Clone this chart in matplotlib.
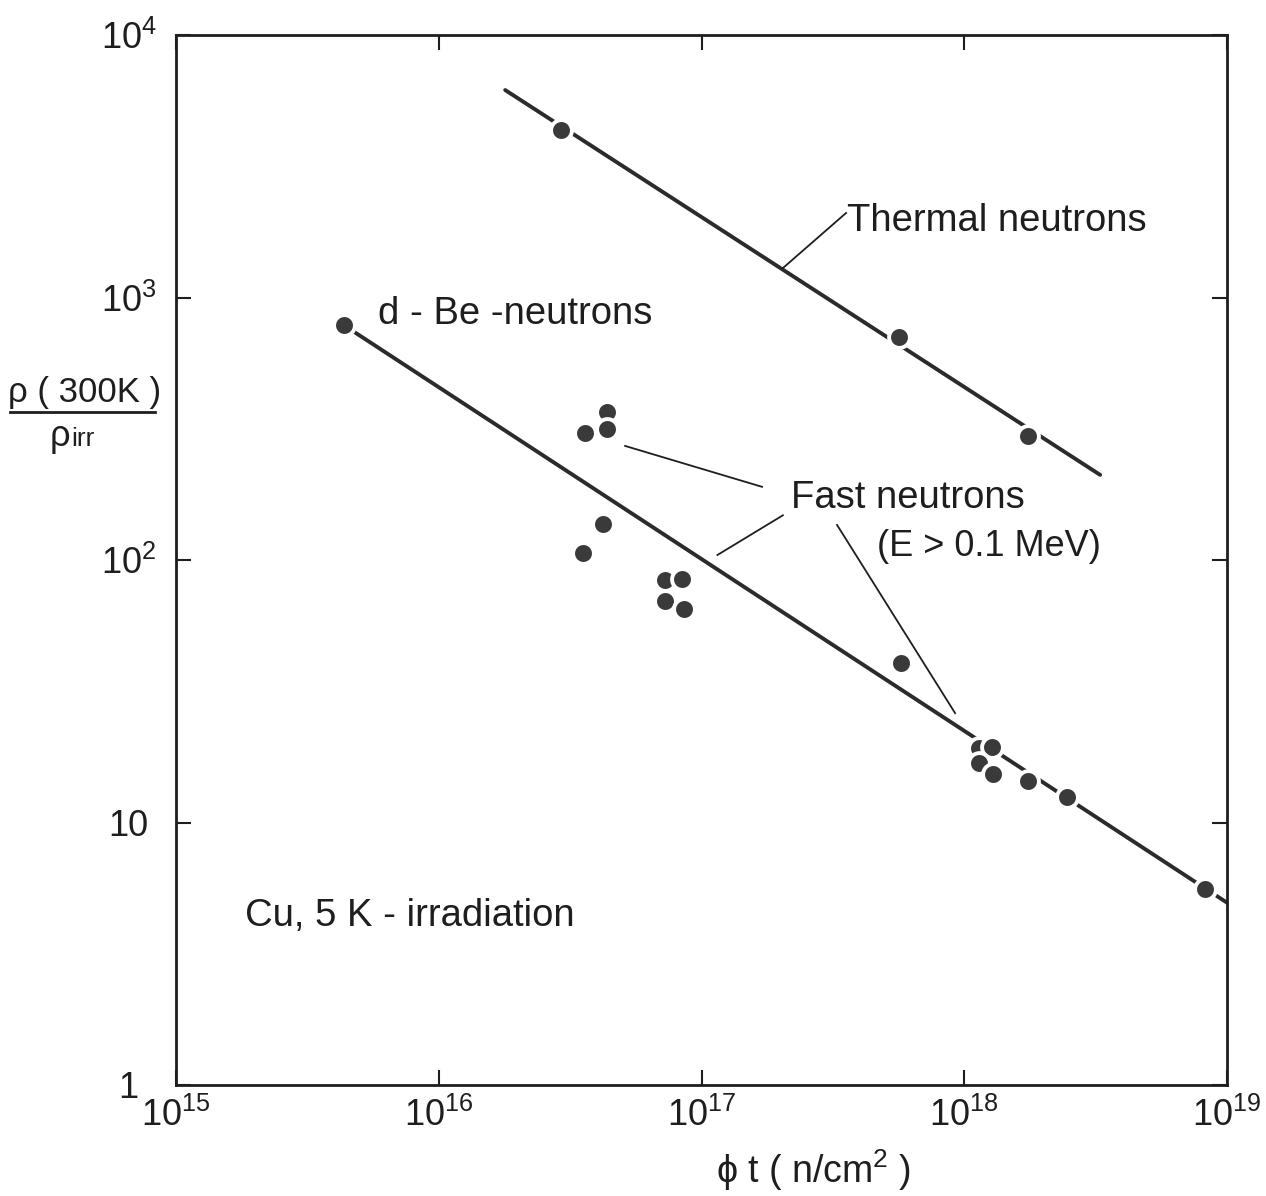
import matplotlib
matplotlib.use("Agg")
import matplotlib.pyplot as plt
from matplotlib.ticker import NullLocator
from matplotlib.lines import Line2D

plt.rcParams['font.family'] = ['Liberation Sans', 'DejaVu Sans']
plt.rcParams['mathtext.fontset'] = 'custom'
plt.rcParams['mathtext.rm'] = 'Liberation Sans'
plt.rcParams['mathtext.it'] = 'Liberation Sans'

# fluence phi*t (n/cm^2) and resistivity ratio rho(300K)/rho_irr
thermal_fluence = [2.92e16, 5.65e17, 1.75e18]
thermal_ratio = [4350, 708, 297]
thermal_fit_fluence = [1.79e16, 3.29e18]
thermal_fit_ratio = [6170, 211]

dbe_fluence = [4.35e15, 1.75e18, 2.46e18, 8.24e18]
dbe_ratio = [785, 14.4, 12.5, 5.58]
dbe_fit_fluence = [4.35e15, 1e19]
dbe_fit_ratio = [785, 4.95]

fast_fluence = [3.61e16, 4.37e16, 4.37e16, 4.22e16, 3.54e16, 7.26e16, 8.43e16,
                7.26e16, 8.57e16, 5.74e17, 1.14e18, 1.28e18, 1.14e18, 1.29e18]
fast_ratio = [305, 366, 315, 137, 106, 84, 85, 70, 65, 40.6, 19.2, 19.4, 16.9, 15.3]

xticks = [1e15, 1e16, 1e17, 1e18, 1e19]
xticklabels = [r'$10^{15}$', r'$10^{16}$', r'$10^{17}$', r'$10^{18}$', r'$10^{19}$']
yticks = [1, 10, 100, 1000, 10000]
yticklabels = ['1', '10', r'$10^{2}$', r'$10^{3}$', r'$10^{4}$']

W, H = 1266, 1196
fig = plt.figure(figsize=(W / 100, H / 100), dpi=100)
ax = fig.add_axes([176 / W, 1 - 1085 / H, 1051 / W, 1050 / H])
ax.set_xscale('log')
ax.set_yscale('log')
ax.set_xlim(1e15, 1e19)
ax.set_ylim(1, 1e4)

ink = '#1e1e1e'
line_kw = dict(color='#2b2b2b', lw=2.8, solid_capstyle='round', zorder=2)
dot_kw = dict(ls='none', marker='o', ms=15, mfc='#3a3a3a', mec='white',
              mew=2.8, zorder=3, clip_on=False)

ax.plot(thermal_fit_fluence, thermal_fit_ratio, **line_kw)
ax.plot(dbe_fit_fluence, dbe_fit_ratio, **line_kw)
ax.plot(thermal_fluence, thermal_ratio, **dot_kw)
ax.plot(dbe_fluence, dbe_ratio, **dot_kw)
ax.plot(fast_fluence, fast_ratio, **dot_kw)

for s in ax.spines.values():
    s.set_linewidth(2)
    s.set_color(ink)
ax.xaxis.set_minor_locator(NullLocator())
ax.yaxis.set_minor_locator(NullLocator())
ax.set_xticks(xticks)
ax.set_xticklabels(xticklabels)
ax.set_yticks(yticks)
ax.set_yticklabels(yticklabels, ha='center')
ax.tick_params(which='major', direction='in', length=11, width=1.5,
               top=True, right=True, labelsize=26, colors=ink)
ax.tick_params(axis='x', pad=9)
ax.tick_params(axis='y', pad=34)

# labels and leader lines
txt = dict(fontsize=27.5, color=ink, va='center', ha='left')
lead = dict(color=ink, lw=1.3)
ax.text(3.58e17, 1954, 'Thermal neutrons', **txt)
ax.plot([2.04e17, 3.55e17], [1294, 2099], **lead)

ax.text(5.87e15, 865, 'd - Be -neutrons', **txt)

ax.text(2.19e17, 172, 'Fast neutrons', **txt)
ax.text(4.66e17, 113, '(E > 0.1 MeV)', fontsize=26, color=ink,
        va='center', ha='left')
ax.plot([5.12e16, 1.70e17], [272, 190], **lead)
ax.plot([1.15e17, 2.04e17], [104.5, 148], **lead)
ax.plot([3.28e17, 9.23e17], [136, 26.1], **lead)

ax.text(1.83e15, 4.41, 'Cu, 5 K - irradiation', **txt)

# axis titles
fig.text(814 / W, 1 - 1170 / H, r'$\phi$ t ( n/cm$^2$ )', ha='center',
         va='center', fontsize=27, color=ink)
fig.text(85 / W, 1 - 402 / H, 'ρ ( 300K )', ha='center', va='baseline',
         fontsize=25, color=ink)
fig.add_artist(Line2D([10 / W, 155 / W], [1 - 412 / H, 1 - 412 / H],
                      color=ink, lw=2))
fig.text(50 / W, 1 - 446 / H, 'ρ', ha='left', va='baseline', fontsize=26,
         color=ink)
fig.text(71 / W, 1 - 446 / H, 'irr', ha='left', va='baseline', fontsize=19,
         color=ink)

fig.savefig('out.png', dpi=100)
